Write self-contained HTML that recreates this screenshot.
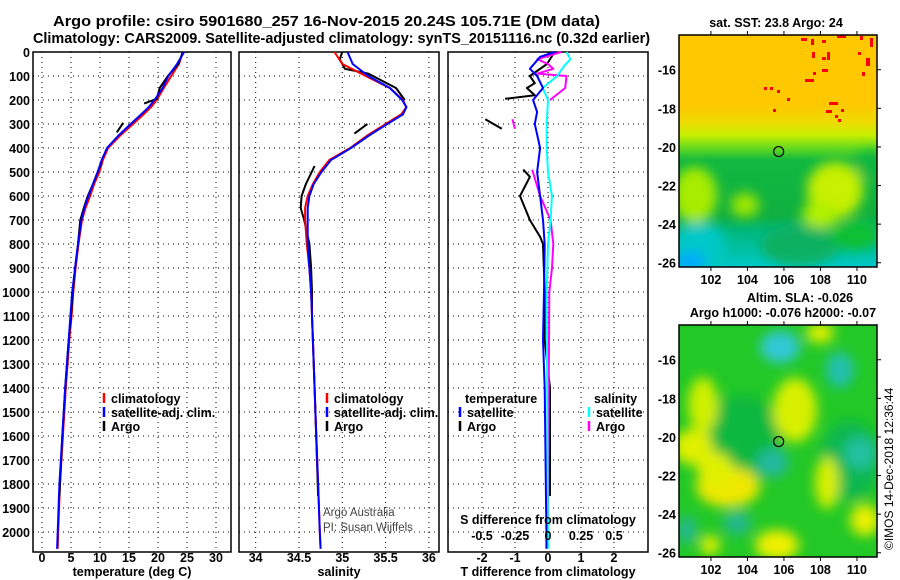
<!DOCTYPE html>
<html><head><meta charset="utf-8">
<style>
html,body{margin:0;padding:0;background:#fff;}
svg{display:block;font-family:"Liberation Sans",sans-serif;}
</style></head>
<body>
<svg id="fig" width="900" height="580" viewBox="0 0 900 580" xmlns="http://www.w3.org/2000/svg">
<defs>
<filter id="blur6" x="-20%" y="-20%" width="140%" height="140%"><feGaussianBlur stdDeviation="6"/></filter>
<linearGradient id="sstGrad" x1="0" y1="0" x2="0" y2="1">
<stop offset="0" stop-color="#ffc800"/><stop offset="0.3" stop-color="#ffc800"/>
<stop offset="0.37" stop-color="#f0d800"/><stop offset="0.43" stop-color="#c8f000"/>
<stop offset="0.49" stop-color="#60d820"/><stop offset="0.54" stop-color="#10b840"/>
<stop offset="0.78" stop-color="#10b040"/><stop offset="0.85" stop-color="#00b880"/>
<stop offset="1" stop-color="#00c8c8"/></linearGradient>
<clipPath id="clipSst"><rect x="679" y="35" width="198" height="232"/></clipPath>
<clipPath id="clipSla"><rect x="679" y="325" width="198" height="232"/></clipPath>
</defs>
<text x="53" y="26" textLength="547" lengthAdjust="spacingAndGlyphs" font-size="15" font-weight="bold">Argo profile: csiro 5901680_257 16-Nov-2015 20.24S 105.71E (DM data)</text>
<text x="33" y="43" textLength="617" lengthAdjust="spacingAndGlyphs" font-size="15" font-weight="bold">Climatology: CARS2009. Satellite-adjusted climatology: synTS_20151116.nc (0.32d earlier)</text>
<g id="panels"></g>
<g id="maps"></g>
</svg>
<script>
// ---- profile data ----
const depthClim = [0,50,100,150,200,230,260,300,350,400,450,500,550,600,650,700,800,900,1000,1100,1200,1400,1600,1800,2000,2070];
const tempClim = [24.3,23.6,22.3,21.0,19.8,18.8,17.5,15.7,13.4,11.4,10.5,9.9,9.0,8.3,7.5,6.9,6.3,5.8,5.4,5.1,4.7,4.1,3.6,3.1,2.8,2.7];
const tempSat = [24.5,23.3,21.8,20.8,19.4,18.4,17.1,15.3,13.1,11.2,10.3,9.6,8.8,8.0,7.3,6.8,6.2,5.7,5.2,4.9,4.6,4.0,3.5,3.0,2.7,2.6];
const depthTempArgo = [0,50,100,150,195,215,250,295,335,400,460,500,550,600,650,700,800,900,1000,1100,1200,1400,1600,1850];
const tempArgo = [24.3,23.5,21.7,20.3,19.8,17.6,null,14.0,12.9,null,10.3,9.6,8.8,7.9,7.2,6.6,6.2,5.7,5.3,5.0,4.6,4.0,3.5,3.0];
const salClim = [34.91,35.0,35.27,35.55,35.70,35.74,35.68,35.5,35.28,35.09,34.85,34.74,34.66,34.6,34.57,34.57,34.59,34.62,34.64,34.65,34.66,34.68,34.70,34.72,34.74,34.75];
const salSat = [35.06,35.12,35.3,35.55,35.69,35.74,35.7,35.52,35.3,35.1,34.87,34.76,34.67,34.62,34.6,34.6,34.6,34.62,34.64,34.65,34.66,34.68,34.70,34.72,34.74,34.75];
const depthSalArgo = [0,30,70,90,150,200,250,300,340,400,475,550,600,650,700,800,900,1000,1100,1400,1850];
const salArgo = [35.0,34.97,35.03,35.3,35.62,35.72,null,35.29,35.14,null,34.68,34.58,34.53,34.52,34.56,34.62,34.64,34.65,34.65,34.68,34.72];
const depthTdiffSat = [0,20,70,100,150,200,250,300,400,500,600,700,800,1000,1200,1400,2000,2070];
const tdiffSat = [0.2,-0.24,-0.55,-0.33,-0.15,-0.45,-0.33,-0.4,-0.24,-0.33,-0.24,-0.15,-0.1,-0.12,-0.15,-0.1,-0.05,-0.05];
const depthTdiffArgo = [0,50,100,130,150,180,195,240,280,320,400,490,520,600,700,770,800,1000,1200,1400,1850];
const tdiffArgo = [0.2,-0.03,-0.55,-0.4,-0.64,-0.4,-1.3,null,-1.9,-1.4,null,-0.75,-0.55,-0.85,-0.55,-0.24,-0.15,-0.1,-0.1,0.06,0.06];
const depthSdiffSat = [0,30,60,100,150,200,300,400,500,600,700,800,1000,2070];
const sdiffSat = [0.14,0.17,0.12,0.07,-0.04,0,-0.01,-0.01,0,0.03,0.02,0,-0.01,0];
const depthSdiffArgo = [0,30,50,70,90,100,150,200,230,280,320,400,490,600,700,800,900,1000,1400,1950];
const sdiffArgo = [0.1,-0.08,0,0.04,-0.08,0.14,0.13,0.015,null,-0.27,-0.25,null,-0.12,-0.06,0.02,0.04,0.03,0.01,0.005,0];
const depthTicks = [0,100,200,300,400,500,600,700,800,900,1000,1100,1200,1300,1400,1500,1600,1700,1800,1900,2000];
const tempTicks = [0,5,10,15,20,25,30];
const salTicks = [34,34.5,35,35.5,36];
const tdiffTicks = [-2,-1,0,1,2];
const sdiffTicks = [-0.5,-0.25,0,0.25,0.5];
const sdiffTickLabels = ["-0.5","-0.25","0","0.25","0.5"];
const lonTicks = [102,104,106,108,110];
const latTicks = [-16,-18,-20,-22,-24,-26];
const argoLon = 105.71, argoLat = -20.24;

const NS = "http://www.w3.org/2000/svg";
function el(tag, attrs, parent){const e=document.createElementNS(NS,tag);for(const k in attrs)e.setAttribute(k,attrs[k]);parent.appendChild(e);return e;}
const yTop=52, yScale=0.24;
function yD(d){return yTop+d*yScale;}
const panels=document.getElementById('panels');

function linPath(depths, vals, xf){
  let s="", pen=false;
  for(let i=0;i<depths.length;i++){
    if(vals[i]===null){pen=false;continue;}
    s+=(pen?"L":"M")+xf(vals[i]).toFixed(1)+" "+yD(depths[i]).toFixed(1);pen=true;
  }
  return s;
}
function panel(name,x0,x1,xf,ticks,labels,ylabels,xtitle){
  const g=el('g',{},panels);
  
  
  const yB=552;
  depthTicks.forEach(d=>{
    const ln=el('line',{x1:x0,x2:x1,y1:yD(d),y2:yD(d),stroke:'#000','stroke-width':1,'stroke-dasharray':'1,4'},g);
    
    
    if(ylabels){
      const t=el('text',{x:30,y:yD(d)+5,'text-anchor':'end','font-size':12.5,'font-weight':'bold'},g);
      t.textContent=d;
      
      
    }
  });
  ticks.forEach((v,i)=>{
    const x=xf(v);
    const ln=el('line',{x1:x,x2:x,y1:yTop,y2:yB,stroke:'#000','stroke-width':1,'stroke-dasharray':'1,4'},g);
    
    
    if(labels){
      const t=el('text',{x:x,y:562,'text-anchor':'middle','font-size':12.5,'font-weight':'bold'},g);
      t.textContent=labels[i];
      
      
    }
  });
  const fr=el('rect',{x:x0,y:yTop,width:x1-x0,height:yB-yTop,fill:'none',stroke:'#000','stroke-width':1.5},g);
  
  
  const xt=el('text',{x:(x0+x1)/2,y:576,'text-anchor':'middle','font-size':12.5,'font-weight':'bold'},g);
  xt.textContent=xtitle;
  
  
  return g;
}
function series(g,name,depths,vals,xf,color){
  const p=el('path',{d:linPath(depths,vals,xf),fill:'none',stroke:color,'stroke-width':2,'stroke-linejoin':'round'},g);
  
  
}
function legend(g,x,y,color,label,name){
  const m=el('line',{x1:x,x2:x,y1:y-10,y2:y,stroke:color,'stroke-width':2.5},g);
  
  
  const t=el('text',{x:x+7,y:y,'font-size':12.5,'font-weight':'bold'},g);
  t.textContent=label;
  
  
}
// temperature panel
const xT=v=>42+v*5.8;
const gT=panel('temperature-panel',33,231,xT,tempTicks,tempTicks.map(String),true,'temperature (deg C)');
series(gT,'temp-climatology-line',depthClim,tempClim,xT,'#ff0000');
series(gT,'temp-argo-line',depthTempArgo,tempArgo,xT,'#000000');
series(gT,'temp-satellite-line',depthClim,tempSat,xT,'#0000ff');
legend(gT,104,403,'#ff0000','climatology','legend-climatology');
legend(gT,104,417,'#0000ff','satellite-adj. clim.','legend-satellite');
legend(gT,104,431,'#000000','Argo','legend-argo');
// salinity panel
const xS=v=>299+(v-34.5)*86.6;
const gS=panel('salinity-panel',239,439,xS,salTicks,salTicks.map(String),false,'salinity');
series(gS,'sal-argo-line',depthSalArgo,salArgo,xS,'#000000');
series(gS,'sal-climatology-line',depthClim,salClim,xS,'#ff0000');
series(gS,'sal-satellite-line',depthClim,salSat,xS,'#0000ff');
legend(gS,327,403,'#ff0000','climatology','legend-climatology');
legend(gS,327,417,'#0000ff','satellite-adj. clim.','legend-satellite');
legend(gS,327,431,'#000000','Argo','legend-argo');
[['Argo Australia',516],['PI: Susan Wijffels',531]].forEach(([s,y])=>{
  const t=el('text',{x:323,y:y,'font-size':11.5,fill:'#444'},gS);
  t.textContent=s;
  
  
});
// difference panel
const xD=v=>548+v*33;
const xSD=v=>548+v*132;
const gD=panel('difference-panel',448,648,xD,tdiffTicks,tdiffTicks.map(String),false,'T difference from climatology');
series(gD,'tdiff-argo-line',depthTdiffArgo,tdiffArgo,xD,'#000000');
series(gD,'sdiff-argo-line',depthSdiffArgo,sdiffArgo,xSD,'#ff00ff');
series(gD,'sdiff-satellite-line',depthSdiffSat,sdiffSat,xSD,'#00ffff');
series(gD,'tdiff-satellite-line',depthTdiffSat,tdiffSat,xD,'#0000ff');
[['temperature',465,403,'legend-temperature-heading'],['salinity',594,403,'legend-salinity-heading']].forEach(([s,x,y,n])=>{
  const t=el('text',{x:x,y:y,'font-size':12.5,'font-weight':'bold'},gD);
  t.textContent=s;
  
  
});
legend(gD,460,417,'#0000ff','satellite','legend-t-satellite');
legend(gD,460,431,'#000000','Argo','legend-t-argo');
legend(gD,589,417,'#00ffff','satellite','legend-s-satellite');
legend(gD,589,431,'#ff00ff','Argo','legend-s-argo');
const sdt=el('text',{x:548,y:524,'text-anchor':'middle','font-size':12.5,'font-weight':'bold'},gD);
sdt.textContent='S difference from climatology';


sdiffTicks.forEach((v,i)=>{
  const t=el('text',{x:xSD(v),y:540,'text-anchor':'middle','font-size':12.5,'font-weight':'bold'},gD);
  t.textContent=sdiffTickLabels[i];
  
  
});

// ---- maps ----
const maps=document.getElementById('maps');
const mx=lon=>679+(lon-100.25)*18.25;
function mapAxes(g,yT,name){
  const my=lat=>yT+(-14.2-lat)*19.3;
  lonTicks.forEach(l=>{
    el('line',{x1:mx(l),x2:mx(l),y1:yT-4,y2:yT,stroke:'#000'},g);
    el('line',{x1:mx(l),x2:mx(l),y1:yT+232,y2:yT+236,stroke:'#000'},g);
    const t=el('text',{x:mx(l),y:yT+249,'text-anchor':'middle','font-size':12.5,'font-weight':'bold'},g);
    t.textContent=l;
    
    
  });
  latTicks.forEach(l=>{
    el('line',{x1:877,x2:881,y1:my(l),y2:my(l),stroke:'#000'},g);
    const t=el('text',{x:676,y:my(l)+5,'text-anchor':'end','font-size':12.5,'font-weight':'bold'},g);
    t.textContent=l;
    
    
  });
  const fr=el('rect',{x:679,y:yT,width:198,height:232,fill:'none',stroke:'#000','stroke-width':1.5},g);
  
  
  const c=el('circle',{cx:mx(argoLon),cy:my(argoLat),r:5,fill:'none',stroke:'#000','stroke-width':1.2},g);
  
  
}
// SST map
const gM=el('g',{},maps);


const gMc=el('g',{'clip-path':'url(#clipSst)'},gM);
el('rect',{x:679,y:35,width:198,height:232,fill:'url(#sstGrad)'},gMc);
const gMb=el('g',{filter:'url(#blur6)'},gMc);
[[695,195,22,28,'#a8ec00'],[745,205,14,12,'#a0e800'],[835,190,28,28,'#c8f000'],[820,215,18,14,'#b0f000'],[870,165,14,14,'#10b840'],[700,245,25,22,'#00c8c8'],[690,262,15,10,'#00a8ff'],[800,245,40,20,'#10b060'],[855,235,25,15,'#10c030']].forEach(b=>{
  el('ellipse',{cx:b[0],cy:b[1],rx:b[2],ry:b[3],fill:b[4]},gMb);
});
[[801,38,6,3],[811,39,3,6],[822,40,4,3],[837,35,9,3],[860,36,3,4],[870,38,3,9],[812,52,3,6],[822,57,4,3],[827,52,3,8],[858,52,3,3],[866,58,4,8],[813,72,3,3],[822,69,6,3],[805,79,9,3],[862,72,3,4],[764,87,3,3],[770,87,3,3],[777,90,3,3],[787,98,3,3],[773,109,3,3],[829,102,9,3],[826,110,6,3],[841,109,3,3],[835,115,3,3],[838,119,3,3]].forEach(r=>{
  const d=el('rect',{x:r[0],y:r[1],width:r[2],height:r[3],fill:'#ff0000'},gMc);
  
  
});
mapAxes(gM,35,'sst-map');
const st=el('text',{x:776,y:27,'text-anchor':'middle','font-size':12.5,'font-weight':'bold'},gM);
st.textContent='sat. SST: 23.8 Argo: 24';


// SLA map
const gA=el('g',{},maps);


const gAc=el('g',{'clip-path':'url(#clipSla)'},gA);
el('rect',{x:679,y:325,width:198,height:232,fill:'#22c826'},gAc);
const gAb=el('g',{filter:'url(#blur6)'},gAc);
[[740,440,40,45,'#10b840'],[850,460,30,40,'#10b850'],[780,347,20,16,'#30c8d8'],[840,370,14,18,'#20c0b0'],[860,453,16,16,'#20c0a0'],[773,463,16,14,'#20b8a0'],[737,523,14,12,'#20b890'],[687,530,10,14,'#20b890'],
 [820,333,14,10,'#e0f000'],[795,410,22,32,'#d8f000'],[703,405,15,28,'#d0f000'],[693,447,20,18,'#e0f000'],[728,487,32,20,'#f0e800'],[715,470,18,18,'#e0f000'],[827,483,12,26,'#d8f000'],[865,520,15,16,'#e8f000'],[777,545,22,15,'#f0f000'],[710,545,10,10,'#e0f000']].forEach(b=>{
  el('ellipse',{cx:b[0],cy:b[1],rx:b[2],ry:b[3],fill:b[4]},gAb);
});
mapAxes(gA,325,'sla-map');
[['Altim. SLA: -0.026',800,302,'sla-map-title'],['Argo h1000: -0.076 h2000: -0.07',783,317,'sla-map-subtitle']].forEach(([s,x,y,n])=>{
  const t=el('text',{x:x,y:y,'text-anchor':'middle','font-size':12.5,'font-weight':'bold'},gA);
  t.textContent=s;
  
  
});
const cp=el('text',{x:0,y:0,'font-size':12,transform:'translate(893,550) rotate(-90)'},maps);
cp.textContent='©IMOS 14-Dec-2018 12:36:44';


</script>
</body></html>
